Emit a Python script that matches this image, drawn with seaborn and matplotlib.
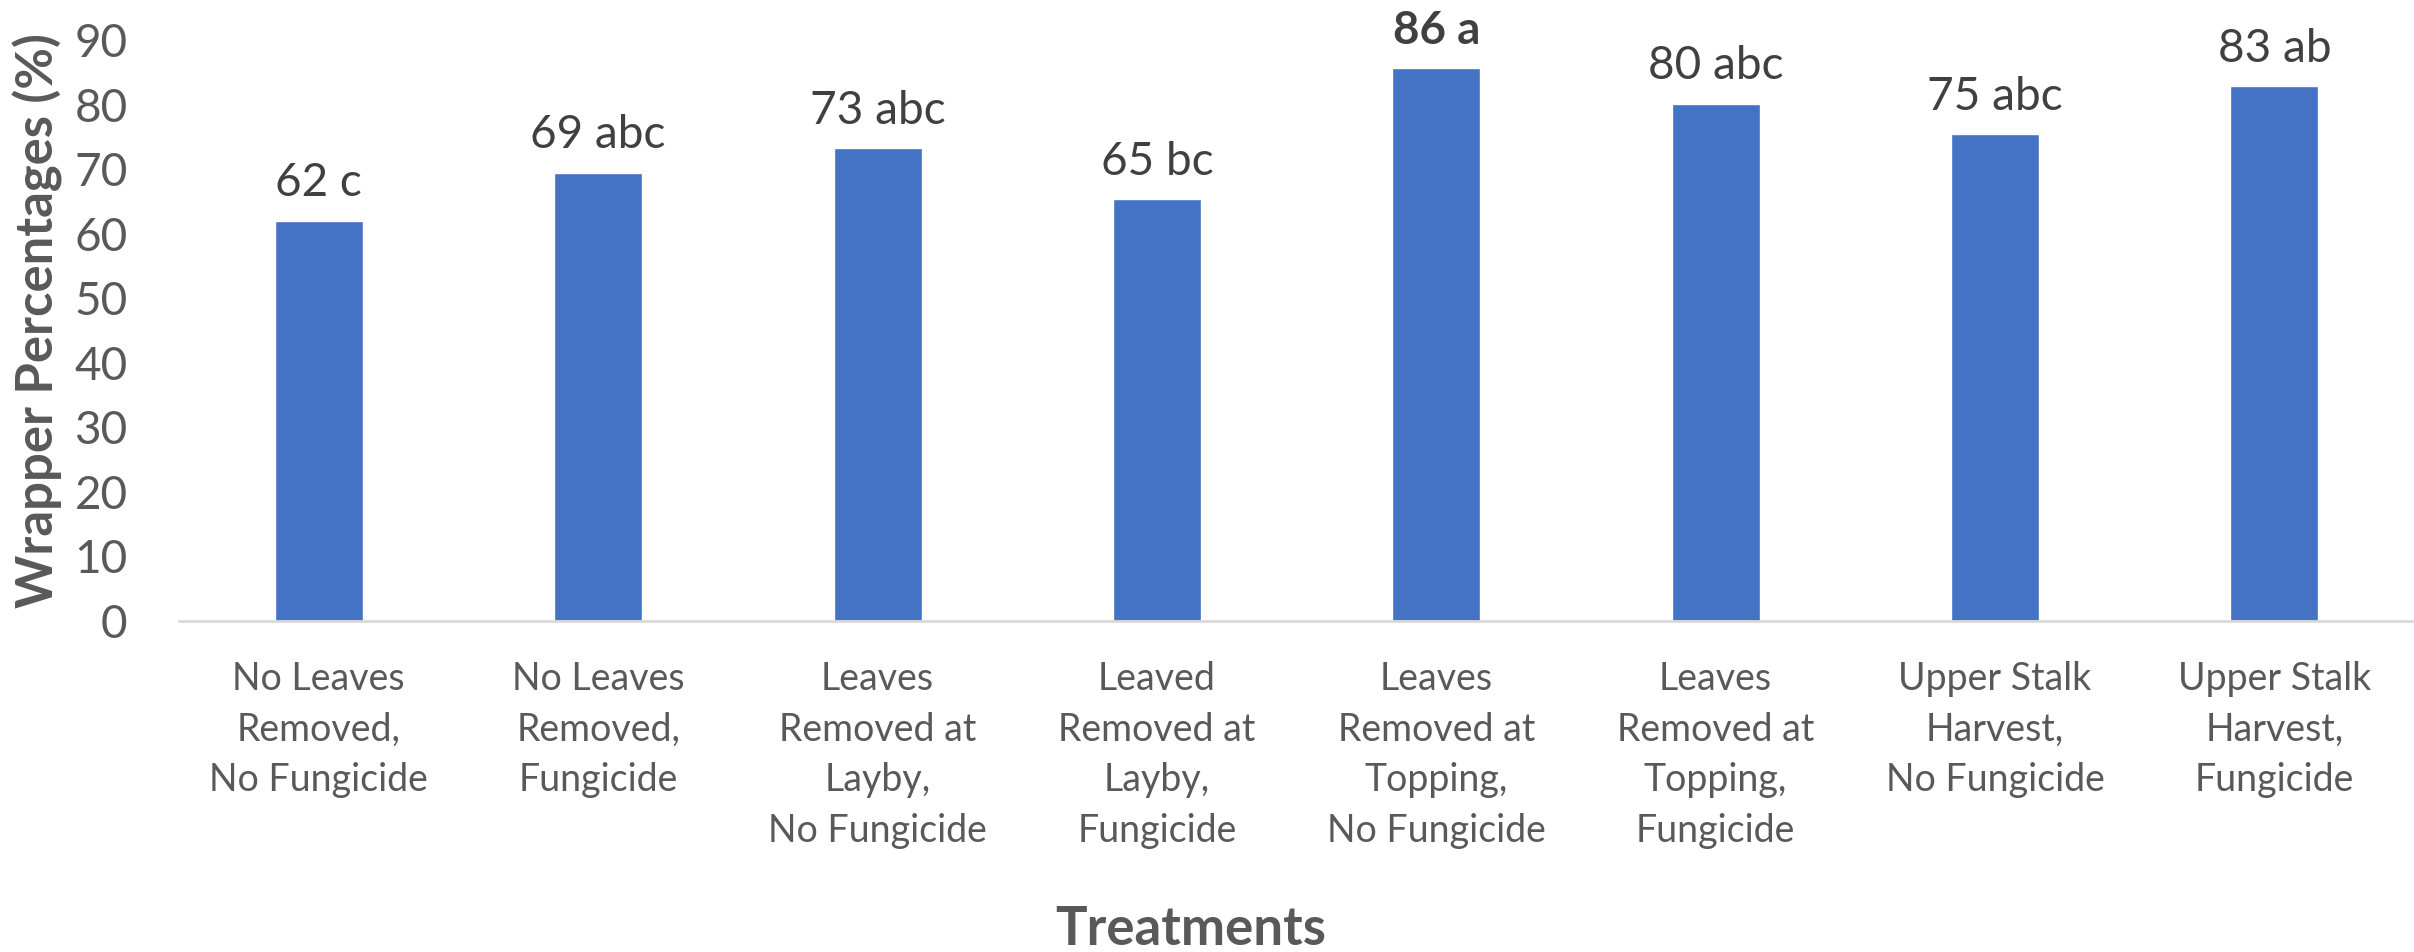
import pandas as pd
import seaborn as sns
import matplotlib.pyplot as plt

treatments = [
    "No Leaves\nRemoved,\nNo Fungicide",
    "No Leaves\nRemoved,\nFungicide",
    "Leaves\nRemoved at\nLayby,\nNo Fungicide",
    "Leaved\nRemoved at\nLayby,\nFungicide",
    "Leaves\nRemoved at\nTopping,\nNo Fungicide",
    "Leaves\nRemoved at\nTopping,\nFungicide",
    "Upper Stalk\nHarvest,\nNo Fungicide",
    "Upper Stalk\nHarvest,\nFungicide",
]
wrapper_pct = [62.0, 69.4, 73.2, 65.3, 85.6, 80.1, 75.4, 82.8]
bar_labels = ["62 c", "69 abc", "73 abc", "65 bc", "86 a", "80 abc", "75 abc", "83 ab"]
yticks = [0, 10, 20, 30, 40, 50, 60, 70, 80, 90]

sns.set_style("white")
plt.rcParams["font.family"] = ["Lato", "DejaVu Sans"]

df = pd.DataFrame({"Treatment": treatments, "Wrapper": wrapper_pct})

text_grey = "#595959"

fig = plt.figure(figsize=(24.14, 9.52), dpi=100)
ax = fig.add_axes([0.0742, 0.3477, 0.9258, 0.6103])

sns.barplot(
    data=df,
    x="Treatment",
    y="Wrapper",
    color="#4472C4",
    saturation=1,
    width=0.315,
    ax=ax,
)

ax.set_ylim(0, 90)
ax.set_xlim(-0.5, 7.5)
ax.set_yticks(yticks)
ax.set_xlabel("")
ax.set_ylabel("")

for side in ["top", "right", "left"]:
    ax.spines[side].set_visible(False)
ax.spines["bottom"].set_color("#D9D9D9")
ax.spines["bottom"].set_linewidth(2)

ax.tick_params(axis="y", length=0, pad=37, labelsize=33, labelcolor=text_grey)
ax.tick_params(axis="x", length=0, pad=29, labelsize=27, labelcolor=text_grey)
for lbl in ax.get_xticklabels():
    lbl.set_linespacing(1.5)

texts = ax.bar_label(ax.containers[0], labels=bar_labels, padding=12,
                     fontsize=33, color="#404040")
texts[4].set_fontweight("bold")

fig.text(0.4934, 0.0074, "Treatments", ha="center", va="baseline",
         fontsize=38, fontweight="bold", color=text_grey)
fig.text(0.0155, 0.663, "Wrapper Percentages (%)", rotation=90,
         ha="center", va="center", fontsize=36.5, fontweight="bold", color=text_grey)

plt.savefig("out.png", dpi=100)
